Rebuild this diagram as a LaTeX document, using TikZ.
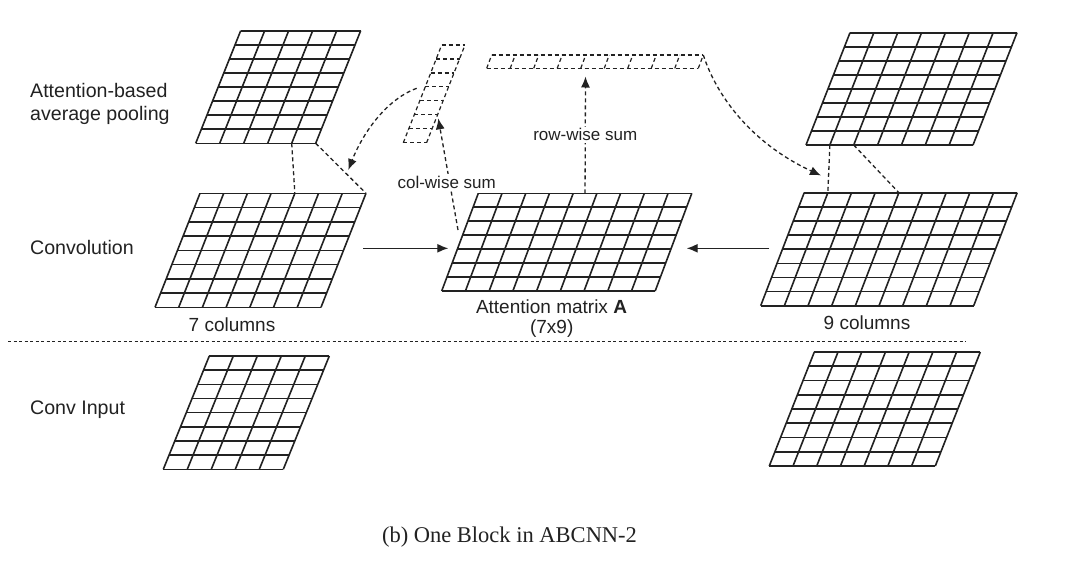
\documentclass[tikz,border=0pt]{standalone}
\usepackage{fontspec}
\setmainfont{Liberation Serif}
\setsansfont{Liberation Sans}
\usetikzlibrary{arrows.meta,calc}
\definecolor{ink}{HTML}{222222}
\newcommand{\skewgrid}[9]{% #1 name, #2 style, #3 blx, #4 bly, #5 cols, #6 rows, #7 width, #8 height, #9 skew
  \foreach \i in {0,...,#6}{
    \draw[#2] ({#3+#9*\i/#6},{#4-#8*\i/#6}) -- ++(#7,0);
  }
  \foreach \j in {0,...,#5}{
    \draw[#2] ({#3+#7*\j/#5},#4) -- ++(#9,-#8);
    \coordinate (#1-b\j) at ({#3+#7*\j/#5},#4);
    \coordinate (#1-t\j) at ({#3+#7*\j/#5+#9},{#4-#8});
  }
}
\tikzset{
  gridline/.style={line width=1.6pt, draw=ink},
  vecline/.style={line width=1.2pt, draw=ink, dash pattern=on 4pt off 3pt},
  dashcon/.style={line width=1.3pt, draw=ink, dash pattern=on 4pt off 3pt},
  dasharrow/.style={dashcon, -{Latex[length=11pt,width=9pt]}},
  solidarrow/.style={line width=1.3pt, draw=ink, -{Latex[length=11pt,width=9pt]}},
  sep/.style={line width=1.2pt, draw=ink, dash pattern=on 3pt off 2.5pt},
  sidelab/.style={font=\sffamily\fontsize{19.6}{23}\selectfont, text=ink, inner sep=0pt},
  lab/.style={font=\sffamily\fontsize{19}{23}\selectfont, text=ink, inner sep=0pt},
  smalllab/.style={font=\sffamily\fontsize{17}{20}\selectfont, text=ink, fill=white, inner sep=2pt},
  captionlab/.style={font=\rmfamily\fontsize{22.5}{26}\selectfont, text=ink, inner sep=0pt}
}
\begin{document}
\begin{tikzpicture}[x=1pt,y=-1pt]
\useasboundingbox[fill=white] (0,0) rectangle (1080,568);

% grids
\skewgrid{poolL}{gridline}{195.7}{143.3}{5}{8}{120}{112.6}{45}
\skewgrid{convL}{gridline}{155}{307.3}{7}{8}{166}{114}{45}
\skewgrid{att}{gridline}{441.7}{291}{9}{7}{213.5}{97.7}{36.6}
\skewgrid{convR}{gridline}{760.7}{305.7}{9}{8}{213}{113}{43.5}
\skewgrid{poolR}{gridline}{806}{145}{7}{8}{167}{112.3}{44}
\skewgrid{inL}{gridline}{163.3}{469.3}{5}{8}{120}{113.3}{46}
\skewgrid{inR}{gridline}{769.3}{466}{7}{8}{166}{114}{45}

% dashed vectors
\skewgrid{colvec}{vecline}{403.3}{142.7}{1}{7}{23.3}{97.7}{38.4}
\skewgrid{rowvec}{vecline}{486.7}{68.3}{9}{1}{211.6}{13.3}{5}

% pooling connectors
\draw[dashcon] (poolL-b4) -- (convL-t4);
\draw[dashcon] (poolL-b5) -- (convL-t7);
\draw[dashcon] (poolR-b1) -- (convR-t1);
\draw[dashcon] (poolR-b2) -- (convR-t4);

% labels
\node[sidelab, anchor=west, align=left] (lpool) at (30,104) {Attention-based\\average pooling};
\node[sidelab, anchor=west] (lconv) at (30,247) {Convolution};
\node[sidelab, anchor=west] (linput) at (30,410) {Conv Input};
\node[lab] (l7) at (232,325) {7 columns};
\node[lab] (latt) at (551.5,307) {Attention matrix \textbf{A}};
\node[lab] (l79) at (551.7,328.5) {(7x9)};
\node[lab] (l9) at (867,323) {9 columns};
\node[captionlab] (caption) at (509.5,537) {(b) One Block in ABCNN-2};

% sums
\coordinate (rowstart) at ($(att-t4)!0.5!(att-t5)$);
\coordinate (rowtip) at (585.5,76.5);
\draw[dasharrow] (rowstart) -- node[smalllab] (lrow) {row-wise sum} (rowtip);
\coordinate (colstart) at (458,230);
\coordinate (coltip) at (438.3,118.3);
\draw[dasharrow] (colstart) -- (coltip);
\node[smalllab] (lcol) at (446.7,182.3) {col-wise sum};

% curved arrows
\coordinate (cstart) at (416.7,88.3);
\coordinate (ctip) at (348.3,170);
\draw[dasharrow] (cstart) .. controls (385,100) and (362,135) .. (ctip);
\coordinate (rtip) at (821,175.5);
\draw[dasharrow] (rowvec-t9) .. controls (718,100) and (755,145) .. (rtip);

% solid arrows
\coordinate (a1s) at (363,248.3);
\coordinate (a1e) at (448.3,248.3);
\draw[solidarrow] (a1s) -- (a1e);
\coordinate (a2s) at (769.3,248.3);
\coordinate (a2e) at (686.7,248.3);
\draw[solidarrow] (a2s) -- (a2e);

% separator
\coordinate (sepL) at (8,341.5);
\coordinate (sepR) at (966,341.5);
\draw[sep] (sepL) -- (sepR);
\end{tikzpicture}
\end{document}
